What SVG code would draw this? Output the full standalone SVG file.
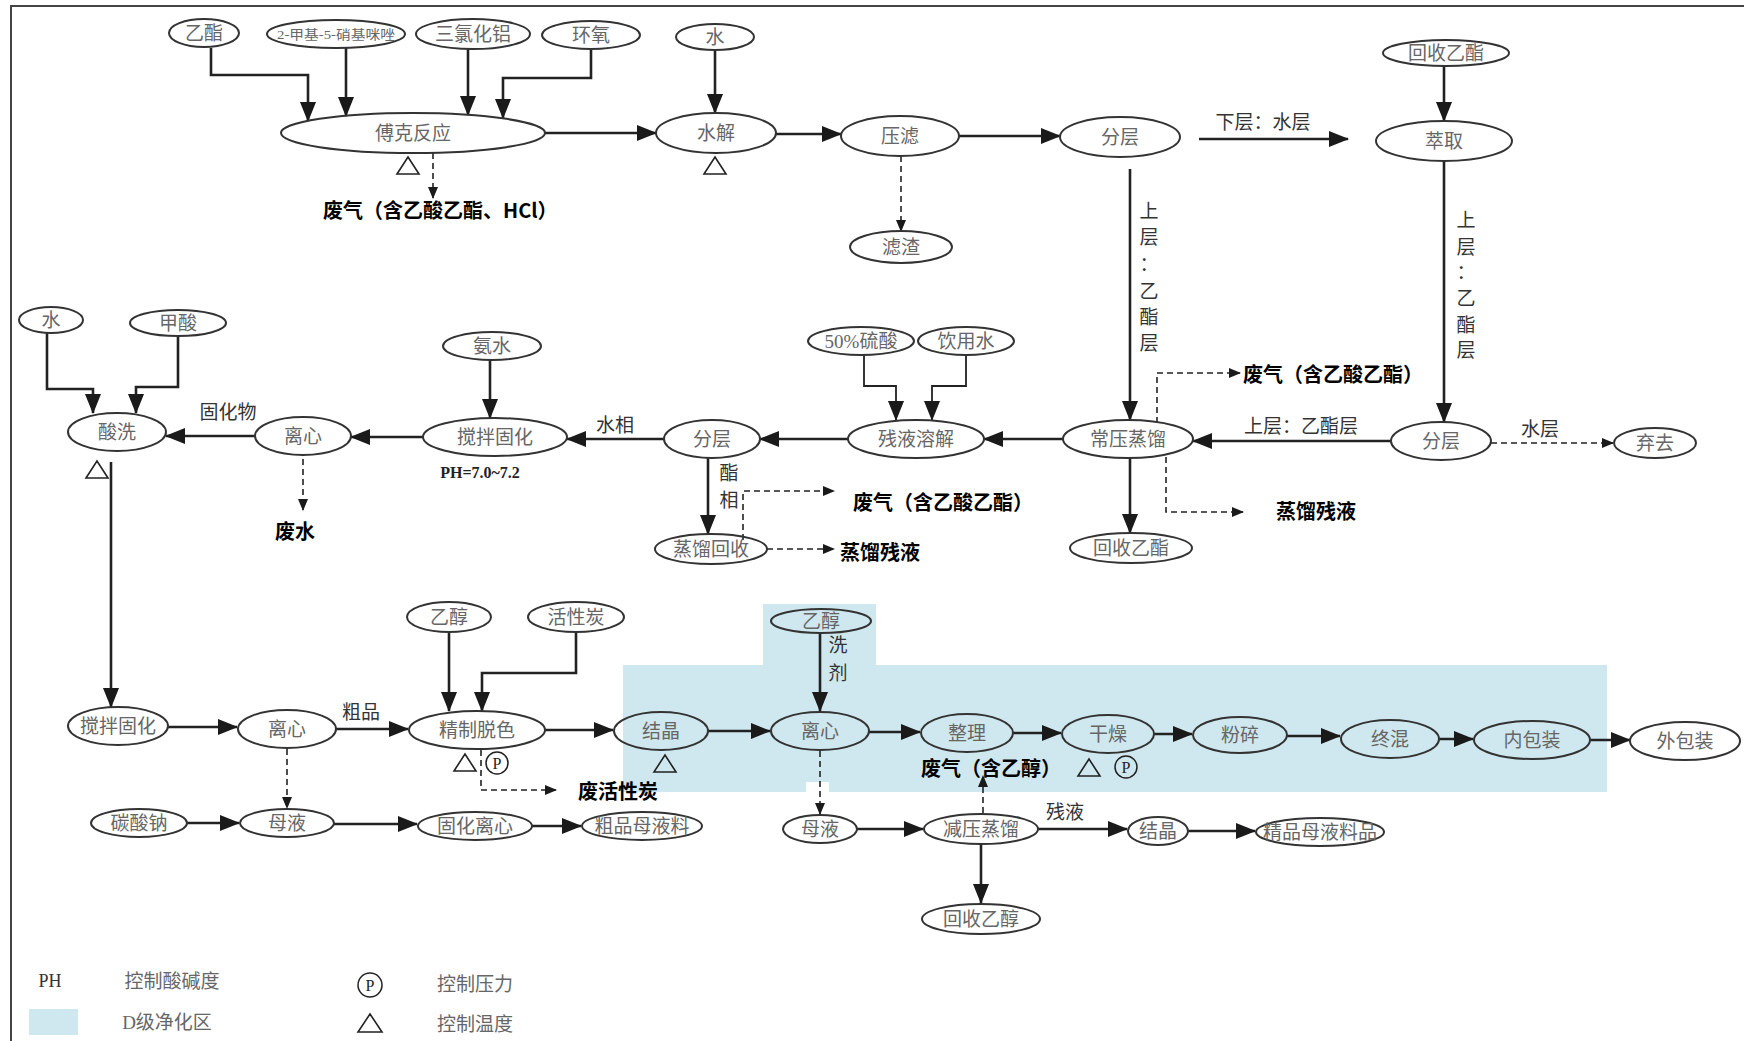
<svg xmlns="http://www.w3.org/2000/svg" width="1744" height="1041" viewBox="0 0 1744 1041">
<style>
.n ellipse{fill:none;stroke:#333;stroke-width:2}
.n text,.t{font-family:"Liberation Serif","Noto Sans CJK SC",serif;font-size:19px;fill:#666;text-anchor:middle;dominant-baseline:central}
.c path.s{fill:none;stroke:#222;stroke-width:2.6;marker-end:url(#a)}
.c path.d{fill:none;stroke:#222;stroke-width:1.6;stroke-dasharray:6 4;marker-end:url(#b)}
.lb{font-family:"Noto Sans CJK SC",sans-serif;font-weight:bold;font-size:20px;fill:#000;dominant-baseline:central}
.cl{font-family:"Liberation Serif","Noto Sans CJK SC",serif;font-size:19px;fill:#333;text-anchor:middle;dominant-baseline:central}
.tri{fill:none;stroke:#222;stroke-width:1.6}
.pc circle{fill:none;stroke:#222;stroke-width:1.5}
.pc text{font-family:"Liberation Serif",serif;font-size:16px;fill:#222;text-anchor:middle;dominant-baseline:central}
</style>
<defs>
<marker id="a" viewBox="0 0 20 16" refX="19" refY="8" markerWidth="20" markerHeight="16" markerUnits="userSpaceOnUse" orient="auto"><path d="M0,0 L20,8 L0,16 z" fill="#1a1a1a"/></marker>
<marker id="b" viewBox="0 0 12 10" refX="11" refY="5" markerWidth="12" markerHeight="10" markerUnits="userSpaceOnUse" orient="auto"><path d="M0,0 L12,5 L0,10 z" fill="#1a1a1a"/></marker>
</defs>
<rect width="1744" height="1041" fill="#fff"/>
<rect x="11" y="6" width="1740" height="1040" fill="none" stroke="#444" stroke-width="2"/>
<path d="M623,665 H763 V604 H876 V665 H1607 V792 H623 Z" fill="#cfe7ee"/>
<rect x="806" y="782" width="23" height="10" fill="#fff"/>

<g class="c">
<path class="s" d="M211,48 V75 H308 V121"/>
<path class="s" d="M346,48 V116"/>
<path class="s" d="M468,49 V115"/>
<path class="s" d="M591,49 V78 H503 V118"/>
<path class="s" d="M545,133 H656"/>
<path class="s" d="M715,50 V113"/>
<path class="s" d="M776,134 H841"/>
<path class="s" d="M959,136 H1060"/>
<path class="s" d="M1199,139 H1348"/>
<path class="s" d="M1444,66 V121"/>
<path class="s" d="M1444,161 V422"/>
<path class="s" d="M1130,169 V420"/>
<path class="s" d="M1391,441 H1193"/>
<path class="s" d="M1063,439 H984"/>
<path class="s" d="M848,439 H760"/>
<path class="s" d="M664,439 H567"/>
<path class="s" d="M423,437 H351"/>
<path class="s" d="M255,436 H166"/>
<path class="s" d="M490,360 V418"/>
<path class="s" d="M864,355 V386 H896 V420" style="stroke-width:1.8"/>
<path class="s" d="M966,355 V386 H932 V420" style="stroke-width:1.8"/>
<path class="s" d="M47,333 V389 H93 V413"/>
<path class="s" d="M178,336 V387 H136 V413"/>
<path class="s" d="M111,462 V707"/>
<path class="s" d="M708,458 V534"/>
<path class="s" d="M1130,458 V533"/>
<path class="d" d="M743,540 V491 H834"/>
<path class="d" d="M767,549 H834"/>
<path class="d" d="M1157,423 V373 H1240"/>
<path class="d" d="M1166,457 V512 H1243"/>
<path class="d" d="M1491,443 H1613"/>
<path class="d" d="M433,153 V198"/>
<path class="d" d="M901,156 V231"/>
<path class="d" d="M303,459 V510"/>
<path class="s" d="M168,727 H237"/>
<path class="s" d="M336,729 H408"/>
<path class="s" d="M449,632 V711"/>
<path class="s" d="M576,632 V673 H482 V711"/>
<path class="s" d="M545,730 H613"/>
<path class="s" d="M708,731 H770"/>
<path class="s" d="M820,633 V711"/>
<path class="s" d="M869,732 H920"/>
<path class="s" d="M1013,733 H1061"/>
<path class="s" d="M1154,734 H1192"/>
<path class="s" d="M1287,736 H1340"/>
<path class="s" d="M1439,739 H1473"/>
<path class="s" d="M1590,740 H1630"/>
<path class="d" d="M481,750 V790 H556"/>
<path class="d" d="M287,749 V808"/>
<path class="s" d="M187,823 H239"/>
<path class="s" d="M334,824 H417"/>
<path class="s" d="M532,826 H581"/>
<path class="d" d="M820,751 V814"/>
<path class="s" d="M857,829 H923"/>
<path class="s" d="M1038,829 H1127"/>
<path class="s" d="M1188,831 H1255"/>
<path class="s" d="M981,845 V903"/>
<path class="d" d="M983,813 V776"/>
</g>

<g id="n_yizhi1" class="n"><ellipse cx="204" cy="33" rx="35" ry="14"/><text x="204" y="33">乙酯</text></g>
<g id="n_jiaji" class="n"><ellipse cx="336" cy="34" rx="69" ry="14"/><text x="336" y="34" style="font-size:13px" textLength="118" lengthAdjust="spacingAndGlyphs">2-甲基-5-硝基咪唑</text></g>
<g id="n_sanlv" class="n"><ellipse cx="473" cy="34" rx="57" ry="15"/><text x="473" y="34">三氯化铝</text></g>
<g id="n_huanyang" class="n"><ellipse cx="591" cy="35" rx="49" ry="14"/><text x="591" y="35">环氧</text></g>
<g id="n_shui1" class="n"><ellipse cx="715" cy="37" rx="39" ry="13"/><text x="715" y="37">水</text></g>
<g id="n_huishou1" class="n"><ellipse cx="1446" cy="53" rx="63" ry="13"/><text x="1446" y="53">回收乙酯</text></g>
<g id="n_fuke" class="n"><ellipse cx="413" cy="133" rx="132" ry="20"/><text x="413" y="133">傅克反应</text></g>
<g id="n_shuijie" class="n"><ellipse cx="716" cy="133" rx="60" ry="20"/><text x="716" y="133">水解</text></g>
<g id="n_yalv" class="n"><ellipse cx="900" cy="136" rx="59" ry="20"/><text x="900" y="136">压滤</text></g>
<g id="n_fenceng1" class="n"><ellipse cx="1120" cy="137" rx="60" ry="20"/><text x="1120" y="137">分层</text></g>
<g id="n_cuiqu" class="n"><ellipse cx="1444" cy="141" rx="68" ry="20"/><text x="1444" y="141">萃取</text></g>
<g id="n_lvzha" class="n"><ellipse cx="901" cy="247" rx="51" ry="16"/><text x="901" y="247">滤渣</text></g>

<g id="n_shui2" class="n"><ellipse cx="51" cy="320" rx="32" ry="13"/><text x="51" y="320">水</text></g>
<g id="n_jiasuan" class="n"><ellipse cx="178" cy="323" rx="48" ry="13"/><text x="178" y="323">甲酸</text></g>
<g id="n_anshui" class="n"><ellipse cx="492" cy="346" rx="49" ry="14"/><text x="492" y="346">氨水</text></g>
<g id="n_liusuan" class="n"><ellipse cx="861" cy="341" rx="53" ry="14"/><text x="861" y="341">50%硫酸</text></g>
<g id="n_yinyong" class="n"><ellipse cx="966" cy="341" rx="48" ry="14"/><text x="966" y="341">饮用水</text></g>
<g id="n_suanxi" class="n"><ellipse cx="117" cy="432" rx="49" ry="19"/><text x="117" y="432">酸洗</text></g>
<g id="n_lixin1" class="n"><ellipse cx="303" cy="436" rx="48" ry="19"/><text x="303" y="436">离心</text></g>
<g id="n_jiaoban1" class="n"><ellipse cx="495" cy="437" rx="72" ry="19"/><text x="495" y="437">搅拌固化</text></g>
<g id="n_fenceng2" class="n"><ellipse cx="712" cy="439" rx="48" ry="19"/><text x="712" y="439">分层</text></g>
<g id="n_canye" class="n"><ellipse cx="916" cy="439" rx="68" ry="19"/><text x="916" y="439">残液溶解</text></g>
<g id="n_changya" class="n"><ellipse cx="1128" cy="439" rx="65" ry="19"/><text x="1128" y="439">常压蒸馏</text></g>
<g id="n_fenceng3" class="n"><ellipse cx="1441" cy="441" rx="50" ry="19"/><text x="1441" y="441">分层</text></g>
<g id="n_qiqu" class="n"><ellipse cx="1655" cy="443" rx="41" ry="15"/><text x="1655" y="443">弃去</text></g>
<g id="n_zhengliu" class="n"><ellipse cx="711" cy="549" rx="56" ry="15"/><text x="711" y="549">蒸馏回收</text></g>
<g id="n_huishou2" class="n"><ellipse cx="1131" cy="548" rx="61" ry="15"/><text x="1131" y="548">回收乙酯</text></g>

<g id="n_yichun1" class="n"><ellipse cx="449" cy="617" rx="42" ry="15"/><text x="449" y="617">乙醇</text></g>
<g id="n_huoxing" class="n"><ellipse cx="576" cy="617" rx="48" ry="15"/><text x="576" y="617">活性炭</text></g>
<g id="n_yichun2" class="n"><ellipse cx="821" cy="621" rx="50" ry="12"/><text x="821" y="621">乙醇</text></g>
<g id="n_jiaoban2" class="n"><ellipse cx="118" cy="726" rx="50" ry="19"/><text x="118" y="726">搅拌固化</text></g>
<g id="n_lixin2" class="n"><ellipse cx="287" cy="729" rx="49" ry="19"/><text x="287" y="729">离心</text></g>
<g id="n_jingzhi" class="n"><ellipse cx="477" cy="730" rx="68" ry="19"/><text x="477" y="730">精制脱色</text></g>
<g id="n_jiejing1" class="n"><ellipse cx="661" cy="731" rx="47" ry="19"/><text x="661" y="731">结晶</text></g>
<g id="n_lixin3" class="n"><ellipse cx="820" cy="731" rx="49" ry="19"/><text x="820" y="731">离心</text></g>
<g id="n_zhengli" class="n"><ellipse cx="967" cy="733" rx="46" ry="19"/><text x="967" y="733">整理</text></g>
<g id="n_ganzao" class="n"><ellipse cx="1108" cy="734" rx="46" ry="19"/><text x="1108" y="734">干燥</text></g>
<g id="n_fensui" class="n"><ellipse cx="1240" cy="735" rx="47" ry="18"/><text x="1240" y="735">粉碎</text></g>
<g id="n_zhonghun" class="n"><ellipse cx="1390" cy="739" rx="49" ry="19"/><text x="1390" y="739">终混</text></g>
<g id="n_neibao" class="n"><ellipse cx="1532" cy="740" rx="58" ry="19"/><text x="1532" y="740">内包装</text></g>
<g id="n_waibao" class="n"><ellipse cx="1685" cy="741" rx="55" ry="19"/><text x="1685" y="741">外包装</text></g>
<g id="n_tansuan" class="n"><ellipse cx="139" cy="823" rx="48" ry="14"/><text x="139" y="823">碳酸钠</text></g>
<g id="n_muye1" class="n"><ellipse cx="287" cy="823" rx="47" ry="14"/><text x="287" y="823">母液</text></g>
<g id="n_guhua" class="n"><ellipse cx="475" cy="826" rx="57" ry="14"/><text x="475" y="826">固化离心</text></g>
<g id="n_cupin" class="n"><ellipse cx="642" cy="826" rx="60" ry="14"/><text x="642" y="826">粗品母液料</text></g>
<g id="n_muye2" class="n"><ellipse cx="820" cy="829" rx="37" ry="14"/><text x="820" y="829">母液</text></g>
<g id="n_jianya" class="n"><ellipse cx="981" cy="829" rx="57" ry="15"/><text x="981" y="829">减压蒸馏</text></g>
<g id="n_jiejing2" class="n"><ellipse cx="1158" cy="831" rx="30" ry="14"/><text x="1158" y="831">结晶</text></g>
<g id="n_jingpin" class="n"><ellipse cx="1320" cy="832" rx="64" ry="14"/><text x="1320" y="832">精品母液料品</text></g>
<g id="n_huishou3" class="n"><ellipse cx="981" cy="919" rx="59" ry="15"/><text x="981" y="919">回收乙醇</text></g>

<g id="labels">
<text class="cl" x="1263" y="122">下层：水层</text>
<text class="cl" x="228" y="412">固化物</text>
<text class="cl" x="615" y="425">水相</text>
<text class="cl" x="1301" y="426">上层：乙酯层</text>
<text class="cl" x="1540" y="429">水层</text>
<text class="cl" x="361" y="712">粗品</text>
<text class="cl" x="1065" y="812">残液</text>
<text class="cl" x="1149"><tspan x="1149" y="211">上</tspan><tspan x="1149" y="237">层</tspan><tspan x="1149" y="264">：</tspan><tspan x="1149" y="291">乙</tspan><tspan x="1149" y="317">酯</tspan><tspan x="1149" y="343">层</tspan></text>
<text class="cl" x="1466"><tspan x="1466" y="220">上</tspan><tspan x="1466" y="247">层</tspan><tspan x="1466" y="272">：</tspan><tspan x="1466" y="298">乙</tspan><tspan x="1466" y="325">酯</tspan><tspan x="1466" y="350">层</tspan></text>
<text class="cl" x="729"><tspan x="729" y="473">酯</tspan><tspan x="729" y="500">相</tspan></text>
<text class="cl" x="838"><tspan x="838" y="645">洗</tspan><tspan x="838" y="673">剂</tspan></text>
<text class="cl" x="480" y="472" style="font-weight:bold;font-size:16px;fill:#222">PH=7.0~7.2</text>
<text class="lb" x="323" y="209">废气（含乙酸乙酯、HCl）</text>
<text class="lb" x="1243" y="373">废气（含乙酸乙酯）</text>
<text class="lb" x="1276" y="510">蒸馏残液</text>
<text class="lb" x="853" y="501">废气（含乙酸乙酯）</text>
<text class="lb" x="840" y="551">蒸馏残液</text>
<text class="lb" x="275" y="530">废水</text>
<text class="lb" x="578" y="790">废活性炭</text>
<text class="lb" x="921" y="767">废气（含乙醇）</text>
</g>

<g id="marks">
<polygon class="tri" points="397,174 419,174 408,157"/>
<polygon class="tri" points="704,174 726,174 715,157"/>
<polygon class="tri" points="86,478 108,478 97,461"/>
<polygon class="tri" points="454,771 476,771 465,754"/>
<g class="pc"><circle cx="497" cy="763" r="11"/><text x="497" y="763">P</text></g>
<polygon class="tri" points="654,772 676,772 665,755"/>
<polygon class="tri" points="1078,776 1100,776 1089,759"/>
<g class="pc"><circle cx="1126" cy="767" r="11"/><text x="1126" y="767">P</text></g>
</g>

<g id="legend">
<text class="t" x="50" y="981" style="fill:#333;font-size:18px">PH</text>
<text class="t" x="172" y="981">控制酸碱度</text>
<rect x="29" y="1009" width="49" height="26" fill="#cfe7ee"/>
<text class="t" x="167" y="1022">D级净化区</text>
<g class="pc"><circle cx="370" cy="985" r="12"/><text x="370" y="985">P</text></g>
<text class="t" x="475" y="984">控制压力</text>
<polygon class="tri" points="358,1032 382,1032 370,1014"/>
<text class="t" x="475" y="1024">控制温度</text>
</g>
</svg>
